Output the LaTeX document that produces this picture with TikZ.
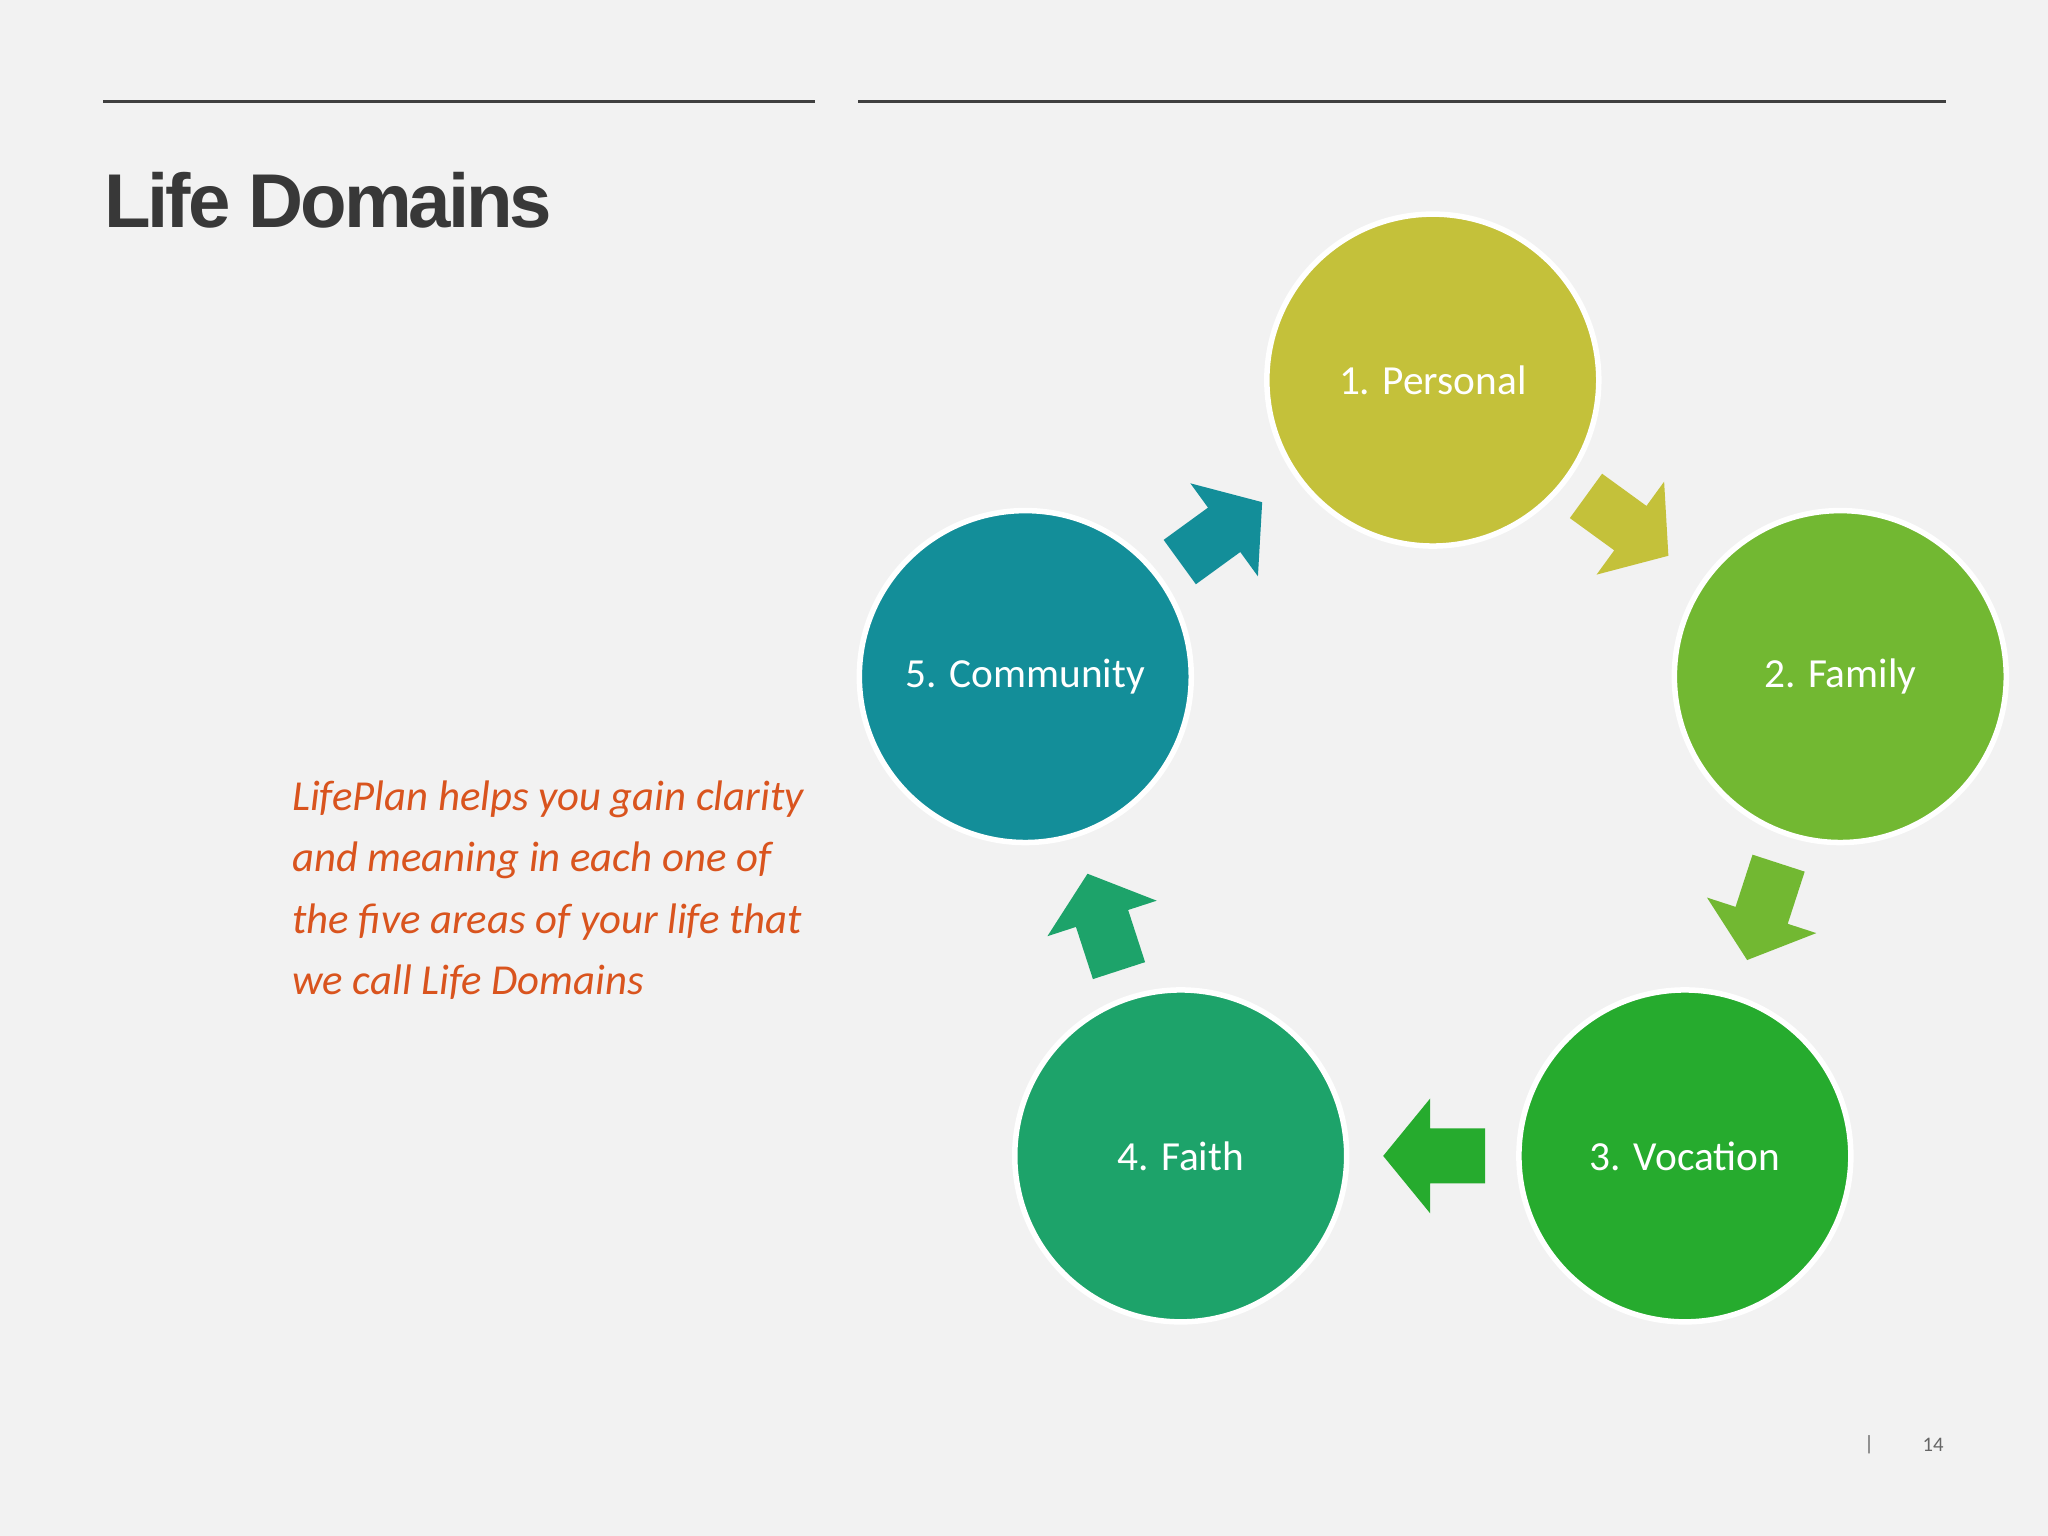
\documentclass[tikz,border=0pt]{standalone}
\usepackage{fontspec}
\setmainfont{Carlito}
\newfontfamily\titlef{Liberation Sans}
\definecolor{bg}{HTML}{F2F2F2}
\definecolor{cP}{HTML}{C4C13A}
\definecolor{cF}{HTML}{72B832}
\definecolor{cV}{HTML}{26AB2E}
\definecolor{cR}{HTML}{1DA36A}
\definecolor{cC}{HTML}{138E99}
\definecolor{org}{HTML}{D9541E}
\begin{document}
\begin{tikzpicture}[x=0.01cm,y=-0.01cm,
  dom/.style={circle,draw=white,line width=1.2pt,minimum size=2.54cm,inner sep=0pt,text=white,font=\fontsize{9}{11}\selectfont},
  blk/.pic={\fill[pic actions] (-38,-21) -- (4,-21) -- (4,-44) -- (40,0) -- (4,44) -- (4,21) -- (-38,21) -- cycle;}]
\fill[bg] (0,0) rectangle (1568,1176);
\useasboundingbox (0,0) rectangle (1568,1176);
\draw[line width=0.6pt,black!75] (79,78) -- (624,78);
\draw[line width=0.6pt,black!75] (657,78) -- (1490,78);
\node[anchor=west,inner sep=0pt,font=\titlef\bfseries\fontsize{16.6}{20}\selectfont,text=black!78] (title) at (79,153) {\addfontfeature{LetterSpace=-4}Life Domains};
\node (p) [dom,fill=cP] at (1097,291) {1. Personal};
\node (f) [dom,fill=cF] at (1409,518) {2. Family};
\node (v) [dom,fill=cV] at (1290,885) {3. Vocation};
\node (r) [dom,fill=cR] at (904,885) {4. Faith};
\node (c) [dom,fill=cC] at (785,518) {5. Community};
\pic[fill=cP,rotate=-36] at (1245,402) {blk};
\pic[fill=cF,rotate=-108] at (1350,697) {blk};
\pic[fill=cV,rotate=180] at (1099,885) {blk};
\pic[fill=cR,rotate=108] at (845,707) {blk};
\pic[fill=cC,rotate=36] at (934,408) {blk};
\node[anchor=north west,align=left,text=org,inner sep=0pt,font=\itshape\fontsize{9.3}{13.4}\selectfont] (t) at (223,597)
{LifePlan helps you gain clarity\\and meaning in each one of\\the five areas of your life that\\we call Life Domains};
\node[text=black!60,font=\fontsize{4.5}{5}\selectfont] (bar) at (1431,1106) {|};
\node[text=black!60,font=\fontsize{4.5}{5}\selectfont] (pg) at (1480,1106) {14};
\end{tikzpicture}
\end{document}
